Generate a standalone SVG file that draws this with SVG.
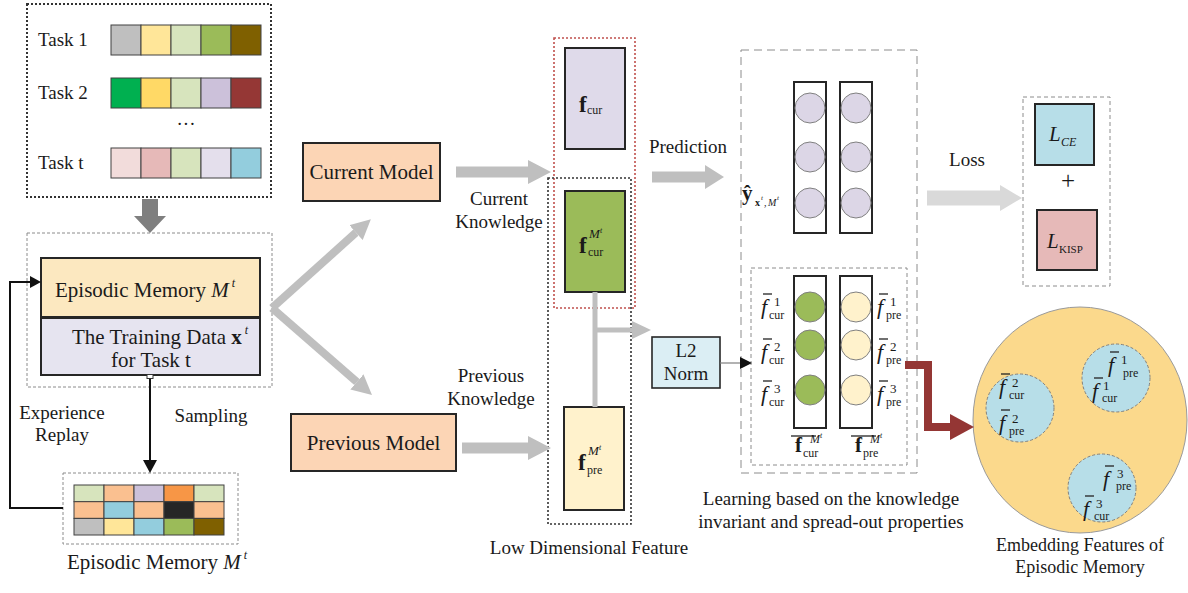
<svg xmlns="http://www.w3.org/2000/svg" width="1188" height="593" viewBox="0 0 1188 593">
<style>
text{font-family:"Liberation Serif","Times New Roman",serif;fill:#1a1a1a}
.lbl{font-size:19px}
.big{font-size:21px}
.it{font-style:italic}
.bf{font-weight:bold}
.sub{font-size:12px}
.sup{font-size:13px}
.cell{stroke:#404040;stroke-width:1}
.box{stroke:#262626;stroke-width:2}
.bar{stroke:#222;stroke-width:1.3}
.gray{fill:#bfbfbf}
</style>
<defs>
<marker id="gh" viewBox="0 0 10 10" refX="0" refY="5" markerWidth="2.5" markerHeight="2.5" orient="auto" markerUnits="strokeWidth">
<path d="M0,0 L10,5 L0,10 z" fill="#bfbfbf"/>
</marker>
</defs>
<rect width="1188" height="593" fill="#fff"/>

<g id="tasks">
<rect x="27" y="4" width="244" height="193" fill="none" stroke="#333" stroke-width="2" stroke-dasharray="2 2"/>
<text class="lbl" x="38" y="46">Task 1</text>
<text class="lbl" x="38" y="99">Task 2</text>
<text class="lbl" x="38" y="169">Task t</text>
<g class="cell">
<rect x="111" y="25" width="30" height="30" fill="#bfbfbf"/><rect x="141" y="25" width="30" height="30" fill="#ffe699"/><rect x="171" y="25" width="30" height="30" fill="#d7e4bd"/><rect x="201" y="25" width="30" height="30" fill="#9bbb59"/><rect x="231" y="25" width="30" height="30" fill="#7f6000"/>
<rect x="111" y="78" width="30" height="30" fill="#00b050"/><rect x="141" y="78" width="30" height="30" fill="#ffd966"/><rect x="171" y="78" width="30" height="30" fill="#d7e4bd"/><rect x="201" y="78" width="30" height="30" fill="#ccc1da"/><rect x="231" y="78" width="30" height="30" fill="#953735"/>
<rect x="111" y="148" width="30" height="30" fill="#f2dcdb"/><rect x="141" y="148" width="30" height="30" fill="#e6b9b8"/><rect x="171" y="148" width="30" height="30" fill="#d7e4bd"/><rect x="201" y="148" width="30" height="30" fill="#e4dfec"/><rect x="231" y="148" width="30" height="30" fill="#93cddd"/>
</g>
<text class="lbl" x="186" y="130" text-anchor="middle">···</text>
</g>

<g id="episodic-memory">
<rect x="27" y="233" width="245" height="154" fill="none" stroke="#8c8c8c" stroke-width="1" stroke-dasharray="3 2"/>
<rect class="box" x="41" y="258" width="219" height="59" fill="#fce8c0"/>
<rect class="box" x="41" y="318" width="219" height="57" fill="#e6e4f0"/>
<text class="big" x="55" y="297">Episodic Memory <tspan class="it">M</tspan><tspan class="it" font-size="12" dy="-10"> t</tspan></text>
<text class="big" x="72" y="344">The Training Data <tspan class="bf">x</tspan><tspan class="it" font-size="12" dy="-10"> t</tspan></text>
<text class="big" x="151" y="367" text-anchor="middle">for Task t</text>
</g>

<g id="memory-bank">
<rect x="63" y="473" width="175" height="71" fill="none" stroke="#8c8c8c" stroke-width="1" stroke-dasharray="3 2"/>
<g class="cell">
<rect x="74" y="485" width="30" height="16.7" fill="#d7e4bd"/><rect x="104" y="485" width="30" height="16.7" fill="#fac090"/><rect x="134" y="485" width="30" height="16.7" fill="#ccc1da"/><rect x="164" y="485" width="30" height="16.7" fill="#f79646"/><rect x="194" y="485" width="30" height="16.7" fill="#d7e4bd"/>
<rect x="74" y="501.7" width="30" height="16.7" fill="#fac090"/><rect x="104" y="501.7" width="30" height="16.7" fill="#93cddd"/><rect x="134" y="501.7" width="30" height="16.7" fill="#fac090"/><rect x="164" y="501.7" width="30" height="16.7" fill="#262626"/><rect x="194" y="501.7" width="30" height="16.7" fill="#fac090"/>
<rect x="74" y="518.4" width="30" height="16.6" fill="#bfbfbf"/><rect x="104" y="518.4" width="30" height="16.6" fill="#ffe699"/><rect x="134" y="518.4" width="30" height="16.6" fill="#93cddd"/><rect x="164" y="518.4" width="30" height="16.6" fill="#9bbb59"/><rect x="194" y="518.4" width="30" height="16.6" fill="#7f6000"/>
</g>
<text class="big" x="67" y="569">Episodic Memory <tspan class="it">M</tspan><tspan class="it" font-size="12" dy="-10"> t</tspan></text>
</g>

<g id="current-model">
<rect class="box" x="303" y="143" width="137" height="58" fill="#fcd5b5"/>
<text class="big" x="371.5" y="179" text-anchor="middle">Current Model</text>
</g>

<g id="previous-model">
<rect class="box" x="291" y="414" width="165" height="57" fill="#fcd5b5"/>
<text class="big" x="373.5" y="450" text-anchor="middle">Previous Model</text>
</g>

<g id="features">
<rect x="554" y="38" width="81" height="270" fill="none" stroke="#c0504d" stroke-width="1.6" stroke-dasharray="2 2"/>
<rect x="548" y="178" width="83" height="346" fill="none" stroke="#333" stroke-width="1.6" stroke-dasharray="2 2"/>
<rect class="box" x="565" y="48" width="60" height="101" fill="#dfdaea"/>
<rect class="box" x="565" y="191" width="60" height="101" fill="#9bbb59"/>
<rect class="box" x="564" y="407" width="60" height="103" fill="#fff2cc"/>
<text class="bf" font-size="23" x="579" y="112">f</text><text class="sub" x="587" y="114">cur</text>
<text class="bf" font-size="23" x="579" y="253">f</text><text class="it" font-size="13" x="589" y="238">M</text><text class="it" font-size="8" x="600" y="233">t</text><text class="sub" x="588" y="256">cur</text>
<text class="bf" font-size="23" x="578" y="470">f</text><text class="it" font-size="13" x="588" y="455">M</text><text class="it" font-size="8" x="599" y="450">t</text><text class="sub" x="587" y="474">pre</text>
<text class="lbl" x="589" y="554" text-anchor="middle">Low Dimensional Feature</text>
</g>

<g id="l2norm">
<rect x="652" y="337" width="68" height="51" fill="#dbeef4" stroke="#262626" stroke-width="1.6"/>
<text class="lbl" x="686" y="357" text-anchor="middle">L2</text>
<text class="lbl" x="686" y="380" text-anchor="middle">Norm</text>
</g>

<g id="output-panel">
<rect x="741" y="50" width="176" height="423" fill="none" stroke="#8c8c8c" stroke-width="1" stroke-dasharray="8 5"/>
<rect class="box" x="794" y="82" width="32" height="151" fill="#fff"/>
<rect class="box" x="840" y="82" width="32" height="151" fill="#fff"/>
<g fill="#dcd6e6" stroke="#808080" stroke-width="1">
<circle cx="810" cy="108" r="15"/><circle cx="810" cy="157" r="15"/><circle cx="810" cy="203" r="15"/>
<circle cx="856" cy="108" r="15"/><circle cx="856" cy="157" r="15"/><circle cx="856" cy="203" r="15"/>
</g>
<text class="bf" font-size="21" x="742" y="200">ŷ</text>
<text class="bf" font-size="10" x="755" y="206">x</text><text class="it" font-size="7" x="761" y="200">t</text><text font-size="10" x="764" y="206">,</text><text class="it" font-size="10" x="768" y="206">M</text><text class="it" font-size="7" x="777" y="200">t</text>
<text class="lbl" x="688" y="153" text-anchor="middle">Prediction</text>
</g>

<g id="kisp-panel">
<rect x="751" y="268" width="156" height="197" fill="none" stroke="#8c8c8c" stroke-width="1" stroke-dasharray="4 3"/>
<rect class="box" x="794" y="276" width="32" height="152" fill="#fff"/>
<rect class="box" x="840" y="276" width="32" height="152" fill="#fff"/>
<g stroke="#808080" stroke-width="1">
<circle cx="810" cy="307" r="15" fill="#9bbb59"/><circle cx="810" cy="345" r="15" fill="#9bbb59"/><circle cx="810" cy="390" r="15" fill="#9bbb59"/>
<circle cx="856" cy="307" r="15" fill="#fff2cc"/><circle cx="856" cy="345" r="15" fill="#fff2cc"/><circle cx="856" cy="390" r="15" fill="#fff2cc"/>
</g>
<g class="it" font-size="22">
<text x="761" y="314">f</text><text x="761" y="359">f</text><text x="761" y="401">f</text>
<text x="877" y="314">f</text><text x="877" y="359">f</text><text x="877" y="401">f</text>
</g>
<g class="bar">
<line x1="763" y1="294" x2="772" y2="294"/><line x1="763" y1="339" x2="772" y2="339"/><line x1="763" y1="381" x2="772" y2="381"/>
<line x1="879" y1="294" x2="888" y2="294"/><line x1="879" y1="339" x2="888" y2="339"/><line x1="879" y1="381" x2="888" y2="381"/>
<line x1="791" y1="436" x2="816" y2="436"/><line x1="851" y1="436" x2="876" y2="436"/>
</g>
<text class="sup" x="774" y="306">1</text><text class="sup" x="774" y="351">2</text><text class="sup" x="774" y="393">3</text>
<text class="sup" x="890" y="306">1</text><text class="sup" x="890" y="351">2</text><text class="sup" x="890" y="393">3</text>
<text class="sub" x="769" y="319">cur</text><text class="sub" x="769" y="364">cur</text><text class="sub" x="769" y="406">cur</text>
<text class="sub" x="886" y="319">pre</text><text class="sub" x="886" y="364">pre</text><text class="sub" x="886" y="406">pre</text>
<text class="bf" font-size="21" x="795" y="452">f</text><text class="it" font-size="12" x="810" y="443">M</text><text class="it" font-size="8" x="820" y="438">t</text><text class="sub" x="803" y="457">cur</text>
<text class="bf" font-size="21" x="855" y="452">f</text><text class="it" font-size="12" x="870" y="443">M</text><text class="it" font-size="8" x="880" y="438">t</text><text class="sub" x="863" y="457">pre</text>
<text class="lbl" x="831" y="505" text-anchor="middle">Learning based on the knowledge</text>
<text class="lbl" x="831" y="528" text-anchor="middle">invariant and spread-out properties</text>
</g>

<g id="loss">
<rect x="1023" y="97" width="87" height="189" fill="none" stroke="#8c8c8c" stroke-width="1" stroke-dasharray="4 3"/>
<rect class="box" x="1035" y="104" width="59" height="61" fill="#b7dee8"/>
<rect class="box" x="1037" y="210" width="60" height="60" fill="#e6b9b8"/>
<text class="it" font-size="21" x="1049" y="141">L</text><text class="it" font-size="12" x="1061" y="146">CE</text>
<text font-size="25" x="1068" y="189" text-anchor="middle">+</text>
<text class="it" font-size="21" x="1047" y="248">L</text><text font-size="11" x="1059" y="253">KISP</text>
<text class="lbl" x="967" y="166" text-anchor="middle">Loss</text>
</g>

<g id="embedding">
<ellipse cx="1080" cy="420" rx="107" ry="113" fill="#fbd98c" stroke="#9a9a9a" stroke-width="1"/>
<g fill="#b7dee8" stroke="#7f7f7f" stroke-width="1" stroke-dasharray="3 2">
<circle cx="1020" cy="408" r="34"/><circle cx="1116" cy="378" r="34"/><circle cx="1102" cy="488" r="34"/>
</g>
<g class="it" font-size="22">
<text x="999" y="394">f</text><text x="999" y="430">f</text>
<text x="1108" y="372">f</text><text x="1092" y="398">f</text>
<text x="1103" y="486">f</text><text x="1083" y="516">f</text>
</g>
<g class="bar">
<line x1="1001" y1="374" x2="1010" y2="374"/><line x1="1001" y1="410" x2="1010" y2="410"/>
<line x1="1110" y1="352" x2="1119" y2="352"/><line x1="1094" y1="378" x2="1103" y2="378"/>
<line x1="1105" y1="466" x2="1114" y2="466"/><line x1="1085" y1="496" x2="1094" y2="496"/>
</g>
<text class="sup" x="1012" y="387">2</text><text class="sub" x="1009" y="399">cur</text>
<text class="sup" x="1012" y="423">2</text><text class="sub" x="1009" y="435">pre</text>
<text class="sup" x="1121" y="364">1</text><text class="sub" x="1123" y="377">pre</text>
<text class="sup" x="1103" y="390">1</text><text class="sub" x="1102" y="402">cur</text>
<text class="sup" x="1117" y="478">3</text><text class="sub" x="1116" y="490">pre</text>
<text class="sup" x="1096" y="508">3</text><text class="sub" x="1094" y="520">cur</text>
<text font-size="18" x="1080" y="551" text-anchor="middle">Embedding Features of</text>
<text font-size="18" x="1080" y="573" text-anchor="middle">Episodic Memory</text>
</g>

<g id="connectors">
<polygon points="142,199 158,199 158,216 166,216 150,233 134,216 142,216" fill="#7f7f7f"/>
<line x1="272" y1="308" x2="356" y2="232.6" stroke="#bfbfbf" stroke-width="8" marker-end="url(#gh)"/>
<line x1="272" y1="308" x2="356.9" y2="381.9" stroke="#bfbfbf" stroke-width="8" marker-end="url(#gh)"/>
<polygon class="gray" points="456,166.5 528,166.5 528,160 551,172 528,184 528,177.5 456,177.5"/>
<polygon class="gray" points="462,442.5 528,442.5 528,436 551,448 528,460 528,453.5 462,453.5"/>
<polygon class="gray" points="652,171.5 705,171.5 705,165 724,177 705,189 705,182.5 652,182.5"/>
<polygon fill="#d9d9d9" points="927,190.5 1000,190.5 1000,185 1022,198 1000,211 1000,205.5 927,205.5"/>
<line x1="595" y1="292" x2="595" y2="407" stroke="#bfbfbf" stroke-width="5"/>
<line x1="595" y1="330" x2="633" y2="330" stroke="#bfbfbf" stroke-width="5"/>
<polygon class="gray" points="632,321 651,330 632,339"/>
<line x1="720" y1="363" x2="742" y2="363" stroke="#7f7f7f" stroke-width="1.2"/>
<polygon points="740,357 752,363 740,369" fill="#111"/>
<polyline points="63,508 10,508 10,282 32,282" fill="none" stroke="#111" stroke-width="2"/>
<polygon points="30,276 41,282 30,288" fill="#111"/>
<line x1="150" y1="376" x2="150" y2="461" stroke="#111" stroke-width="2"/>
<polygon points="143,460 157,460 150,473" fill="#111"/>
<rect x="147" y="374.5" width="6" height="4" fill="#fff" stroke="#333" stroke-width="1"/>
<polyline points="905,365 928,365 928,427 951,427" fill="none" stroke="#943634" stroke-width="8" stroke-linejoin="miter"/>
<polygon points="950,414 974,427 950,440" fill="#943634"/>
<text class="lbl" x="62" y="419" text-anchor="middle">Experience</text>
<text class="lbl" x="62" y="441" text-anchor="middle">Replay</text>
<text class="lbl" x="211" y="422" text-anchor="middle">Sampling</text>
<text class="lbl" x="499" y="205" text-anchor="middle">Current</text>
<text class="lbl" x="499" y="228" text-anchor="middle">Knowledge</text>
<text class="lbl" x="491" y="382" text-anchor="middle">Previous</text>
<text class="lbl" x="491" y="405" text-anchor="middle">Knowledge</text>
</g>
</svg>
